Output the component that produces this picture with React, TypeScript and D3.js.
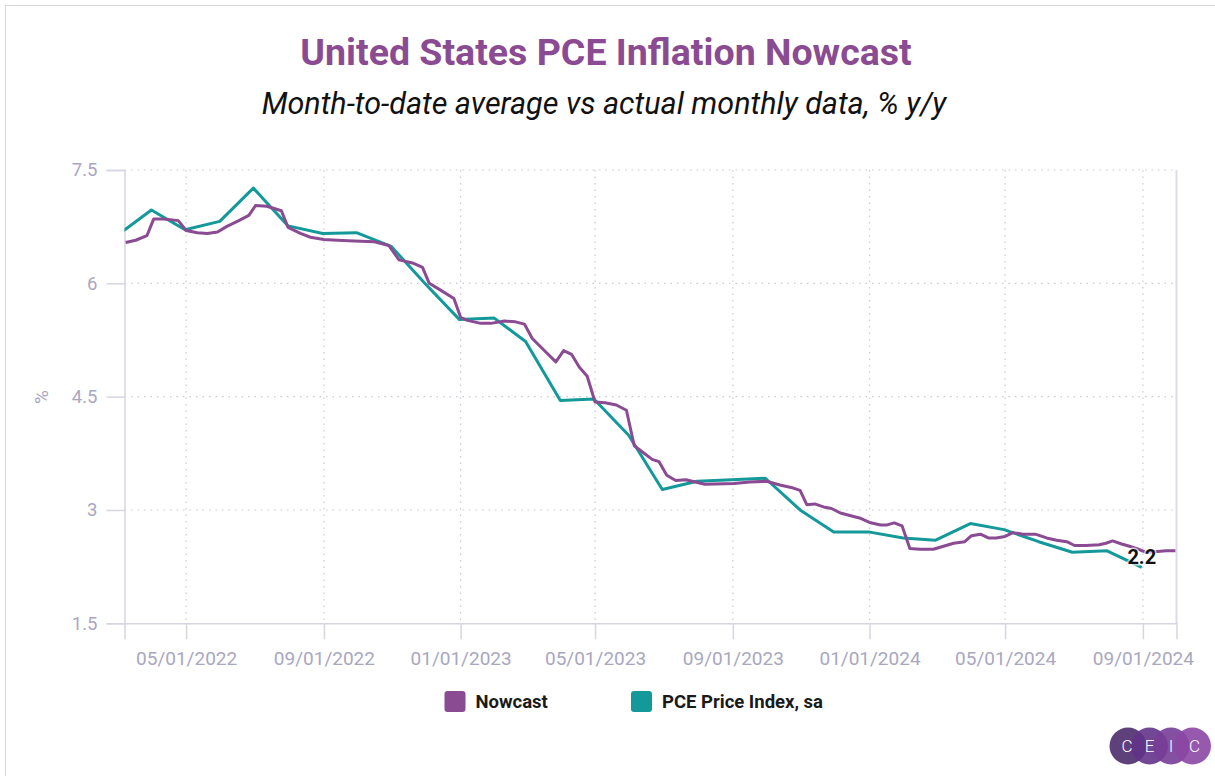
import * as d3 from "d3";
import {useEffect, useRef} from "react";

// weekly month-to-date nowcast, % y/y
const nowcastDates = [
    "2022-03-08", "2022-03-17", "2022-03-27", "2022-04-02", "2022-04-11", "2022-04-24",
    "2022-05-01", "2022-05-11", "2022-05-20", "2022-05-29", "2022-06-06", "2022-06-17",
    "2022-06-26", "2022-07-02", "2022-07-12", "2022-07-25", "2022-07-31", "2022-08-11",
    "2022-08-20", "2022-09-01", "2022-09-13", "2022-09-28", "2022-10-16", "2022-10-29",
    "2022-11-07", "2022-11-19", "2022-11-28", "2022-12-04", "2022-12-13", "2022-12-26",
    "2023-01-01", "2023-01-07", "2023-01-19", "2023-01-28", "2023-02-09", "2023-02-19",
    "2023-02-27", "2023-03-06", "2023-03-16", "2023-03-27", "2023-04-03", "2023-04-10",
    "2023-04-17", "2023-04-24", "2023-05-01", "2023-05-10", "2023-05-20", "2023-05-29",
    "2023-06-05", "2023-06-12", "2023-06-21", "2023-06-27", "2023-07-04", "2023-07-12",
    "2023-07-21", "2023-08-07", "2023-09-02", "2023-09-16", "2023-10-01", "2023-10-13",
    "2023-10-25", "2023-10-31", "2023-11-06", "2023-11-13", "2023-11-21", "2023-11-28",
    "2023-12-06", "2023-12-16", "2023-12-24", "2024-01-02", "2024-01-11", "2024-01-16",
    "2024-01-23", "2024-01-30", "2024-02-06", "2024-02-15", "2024-02-27", "2024-03-07",
    "2024-03-16", "2024-03-26", "2024-04-01", "2024-04-09", "2024-04-16", "2024-04-23",
    "2024-05-01", "2024-05-08", "2024-05-17", "2024-05-28", "2024-06-07", "2024-06-16",
    "2024-06-25", "2024-07-02", "2024-07-12", "2024-07-24", "2024-07-30", "2024-08-05",
    "2024-08-13", "2024-08-20", "2024-08-28", "2024-09-04", "2024-09-14", "2024-09-22",
    "2024-09-30"
];
const nowcastValues = [
    6.54, 6.57, 6.63, 6.85, 6.85, 6.83,
    6.70, 6.67, 6.66, 6.68, 6.75, 6.83,
    6.90, 7.03, 7.02, 6.96, 6.74, 6.66,
    6.61, 6.58, 6.57, 6.56, 6.55, 6.50,
    6.31, 6.27, 6.21, 6.00, 5.92, 5.80,
    5.55, 5.51, 5.47, 5.47, 5.50, 5.49,
    5.46, 5.27, 5.12, 4.96, 5.11, 5.06,
    4.89, 4.77, 4.43, 4.42, 4.39, 4.32,
    3.85, 3.77, 3.67, 3.64, 3.46, 3.39,
    3.40, 3.34, 3.35, 3.37, 3.38, 3.33,
    3.29, 3.26, 3.07, 3.08, 3.04, 3.02,
    2.96, 2.92, 2.89, 2.83, 2.80, 2.80,
    2.83, 2.79, 2.49, 2.48, 2.48, 2.52,
    2.56, 2.58, 2.66, 2.68, 2.63, 2.63,
    2.65, 2.70, 2.68, 2.68, 2.63, 2.60,
    2.58, 2.53, 2.53, 2.54, 2.56, 2.59,
    2.55, 2.52, 2.48, 2.44, 2.45, 2.46,
    2.46
];

// actual monthly PCE price index, sa, % y/y (month end)
const pceDates = [
    "2022-02-28", "2022-03-31", "2022-04-30", "2022-05-31", "2022-06-30", "2022-07-31",
    "2022-08-31", "2022-09-30", "2022-10-31", "2022-11-30", "2022-12-31", "2023-01-31",
    "2023-02-28", "2023-03-31", "2023-04-30", "2023-05-31", "2023-06-30", "2023-07-31",
    "2023-08-31", "2023-09-30", "2023-10-31", "2023-11-30", "2023-12-31", "2024-01-31",
    "2024-02-29", "2024-03-31", "2024-04-30", "2024-05-31", "2024-06-30", "2024-07-31",
    "2024-08-31"
];
const pceValues = [
    6.63, 6.97, 6.71, 6.82, 7.26, 6.76,
    6.66, 6.67, 6.49, 6.00, 5.52, 5.54,
    5.23, 4.45, 4.47, 3.99, 3.27, 3.38,
    3.40, 3.42, 3.00, 2.71, 2.71, 2.63,
    2.60, 2.82, 2.74, 2.58, 2.44, 2.46,
    2.24
];

const yTicks = [1.5, 3, 4.5, 6, 7.5];
const xTicks = ["2022-05-01", "2022-09-01", "2023-01-01", "2023-05-01", "2023-09-01", "2024-01-01", "2024-05-01", "2024-09-01"];
const xDomain = ["2022-03-07", "2024-10-01"];
const yDomain = [1.5, 7.5];

const legendItems = [
    {name: "Nowcast", color: "#8a4b93"},
    {name: "PCE Price Index, sa", color: "#14999a"}
];
const logoLetters = ["C", "E", "I", "C"];

const App = () => {
    const ref = useRef(null);

    useEffect(() => {buildChart()}, []);

    const buildChart = () => {
        const W = 1215, H = 776;
        const margin = {top: 170, right: 38.5, bottom: 152.7, left: 124.5},
            width = W - margin.left - margin.right,
            height = H - margin.top - margin.bottom;

        const svg = d3.select(ref.current);
        svg.selectAll("*").remove();
        svg.attr("width", W).attr("height", H)
            .style("font-family", "Roboto, sans-serif");

        const parse = d3.timeParse("%Y-%m-%d");
        const fmt = d3.timeFormat("%m/%d/%Y");
        const axisColor = "#d6d5e2";
        const labelColor = "#a9a7bf";

        // card frame
        svg.append("rect")
            .attr("x", 5.5).attr("y", 5.5)
            .attr("width", W + 20).attr("height", H + 20)
            .attr("fill", "#fff").attr("stroke", "#d7d7df");

        // titles
        svg.append("text")
            .attr("x", 606).attr("y", 65)
            .attr("text-anchor", "middle")
            .attr("fill", "#8a4b93")
            .style("font-size", "37.5px").style("font-weight", 700)
            .text("United States PCE Inflation Nowcast");
        svg.append("text")
            .attr("x", 604).attr("y", 114)
            .attr("text-anchor", "middle")
            .attr("fill", "#111")
            .style("font-size", "30.5px").style("font-style", "italic")
            .text("Month-to-date average vs actual monthly data, % y/y");

        const g = svg.append("g")
            .attr("transform", `translate(${margin.left}, ${margin.top})`);

        const x = d3.scaleTime()
            .domain(xDomain.map(d => parse(d)))
            .range([0, width]);
        const y = d3.scaleLinear()
            .domain(yDomain)
            .range([height, 0]);

        // dotted grid
        g.append("g")
            .selectAll("line")
            .data(yTicks.filter(d => d > yDomain[0]))
            .join("line")
            .attr("x1", 0).attr("x2", width)
            .attr("y1", d => y(d)).attr("y2", d => y(d))
            .attr("stroke", "#c9c9d4").attr("stroke-width", 1.2)
            .attr("stroke-dasharray", "1.5,5");
        g.append("g")
            .selectAll("line")
            .data(xTicks)
            .join("line")
            .attr("x1", d => x(parse(d))).attr("x2", d => x(parse(d)))
            .attr("y1", 0).attr("y2", height)
            .attr("stroke", "#c9c9d4").attr("stroke-width", 1.2)
            .attr("stroke-dasharray", "1.5,5");

        // right border
        g.append("line")
            .attr("x1", width).attr("x2", width)
            .attr("y1", 0).attr("y2", height)
            .attr("stroke", "#dcdce6").attr("stroke-width", 2);

        // Y axis
        const yAxis = g.append("g")
            .call(d3.axisLeft(y).tickValues(yTicks).tickSize(18).tickPadding(9)
                .tickFormat(d => String(d)));
        yAxis.select(".domain").attr("stroke", axisColor).attr("stroke-width", 1.5);
        yAxis.selectAll(".tick line").attr("stroke", axisColor).attr("stroke-width", 1.5);
        yAxis.selectAll(".tick text").attr("fill", labelColor)
            .style("font-size", "18.5px").style("font-family", "Roboto, sans-serif");

        // X axis
        const xAxis = g.append("g")
            .attr("transform", `translate(0, ${height})`)
            .call(d3.axisBottom(x).tickValues(xTicks.map(d => parse(d))).tickSize(16).tickPadding(12)
                .tickFormat(d => fmt(d)));
        xAxis.select(".domain").attr("stroke", axisColor).attr("stroke-width", 1.5);
        xAxis.selectAll(".tick line").attr("stroke", axisColor).attr("stroke-width", 1.5);
        xAxis.selectAll(".tick text").attr("fill", labelColor)
            .style("font-size", "19px").style("font-family", "Roboto, sans-serif");

        // y label
        svg.append("text")
            .attr("transform", "translate(48, 397) rotate(-90)")
            .attr("text-anchor", "middle")
            .attr("fill", labelColor)
            .style("font-size", "19px")
            .text("%");

        // lines
        svg.append("clipPath").attr("id", "plot-clip")
            .append("rect").attr("x", 0).attr("y", -5)
            .attr("width", width).attr("height", height + 10);

        const line = d3.line()
            .x(d => x(d.date))
            .y(d => y(d.value));

        const pce = pceDates.map((d, i) => ({date: parse(d), value: pceValues[i]}));
        const nowcast = nowcastDates.map((d, i) => ({date: parse(d), value: nowcastValues[i]}));

        const lines = g.append("g").attr("clip-path", "url(#plot-clip)");
        lines.append("path")
            .datum(pce)
            .attr("fill", "none")
            .attr("stroke", legendItems[1].color)
            .attr("stroke-width", 3)
            .attr("stroke-linejoin", "round")
            .attr("d", line);
        lines.append("path")
            .datum(nowcast)
            .attr("fill", "none")
            .attr("stroke", legendItems[0].color)
            .attr("stroke-width", 3)
            .attr("stroke-linejoin", "round")
            .attr("d", line);

        // last value label
        const last = pce[pce.length - 1];
        g.append("text")
            .attr("x", x(last.date))
            .attr("y", y(last.value) - 3)
            .attr("text-anchor", "middle")
            .attr("fill", "#111")
            .attr("stroke", "rgba(255,255,255,0.7)")
            .attr("stroke-width", 3)
            .style("paint-order", "stroke")
            .style("font-size", "20px").style("font-weight", 700)
            .text(last.value.toFixed(1));

        // legend
        const legendX = [444.5, 631];
        const legend = svg.append("g")
            .selectAll("g")
            .data(legendItems)
            .join("g")
            .attr("transform", (d, i) => `translate(${legendX[i]}, 691)`);
        legend.append("rect")
            .attr("width", 21).attr("height", 21).attr("rx", 3)
            .attr("fill", d => d.color);
        legend.append("text")
            .attr("x", 31).attr("y", 17)
            .attr("fill", "#1a1a1a")
            .style("font-size", "18.5px").style("font-weight", 700)
            .text(d => d.name);

        // CEIC logo
        const logoColors = ["#4d2b6c", "#63338a", "#773d97", "#8b47a4"];
        const logo = svg.append("g").attr("transform", "translate(1128, 746)");
        logo.selectAll("circle")
            .data(logoLetters)
            .join("circle")
            .attr("cx", (d, i) => i * 21.5)
            .attr("cy", 0)
            .attr("r", 18.5)
            .attr("fill", (d, i) => logoColors[i])
            .attr("fill-opacity", 0.9);
        logo.selectAll("text")
            .data(logoLetters)
            .join("text")
            .attr("x", (d, i) => i * 21.5 + (i === 0 ? -1 : i === 3 ? 2 : 0))
            .attr("y", 6)
            .attr("text-anchor", "middle")
            .attr("fill", "#fff")
            .style("font-size", "17px").style("font-weight", 300)
            .text(d => d);
    };

    return (
        <div style={{position: "absolute", left: 0, top: 0}}>
            <svg ref={ref}/>
        </div>
    );
};

export default App;
